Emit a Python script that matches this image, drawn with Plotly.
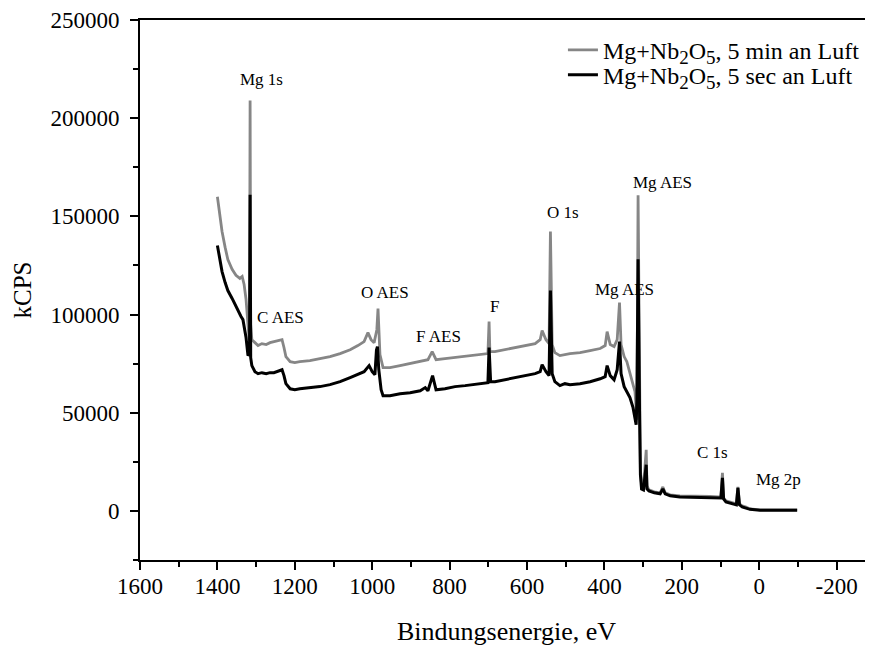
import plotly.graph_objects as go

# Binding energy (eV) and intensity for the two spectra
energy_gray = [1400, 1395, 1388, 1380, 1373, 1362, 1352, 1342, 1336, 1331, 1326, 1321, 1318,
               1317, 1315.5, 1314, 1311, 1303, 1295, 1285, 1274, 1264, 1254, 1243, 1233, 1228,
               1223, 1212, 1200, 1187, 1161, 1135, 1109, 1083, 1057, 1037, 1021, 1011, 1003, 995,
               988, 985, 980, 972, 954, 928, 902, 876, 856, 845, 835, 812, 786, 760, 734, 708,
               701, 698, 696, 683, 657, 631, 605, 579, 566, 561, 551, 543, 539.5, 535, 528, 515,
               489, 463, 437, 411, 398, 393, 385, 375, 367, 361, 357, 349, 342, 334, 326, 321,
               318, 316, 313, 309, 307, 304, 299, 292, 290, 285, 271, 256, 249, 243, 230, 205,
               179, 153, 127, 106, 99, 95, 92, 86, 76, 62, 59, 55, 51, 44, 34, 24, -2, -54, -98]
counts_gray = [160000, 152000, 142300, 134200, 128000, 123000, 120000, 118400, 119400, 115300,
               107700, 95000, 87200, 90000, 209000, 95000, 87200, 85700, 84200, 85200, 84700,
               85700, 86200, 86700, 87200, 83200, 78600, 76000, 75500, 76000, 76500, 77500,
               78600, 80100, 82100, 84200, 86200, 90800, 87200, 85700, 92300, 103000, 79600,
               73000, 73000, 74000, 75000, 76000, 77000, 81100, 77000, 77500, 78100, 78600,
               79100, 79600, 80100, 96400, 81100, 81100, 82100, 83200, 84200, 85200, 87200,
               91800, 87200, 85200, 142300, 84700, 80600, 79100, 80100, 80600, 81600, 82700,
               84200, 91300, 84700, 83700, 87200, 106100, 84700, 78600, 76000, 69400, 64300,
               60700, 54000, 46400, 160700, 46400, 20900, 13300, 12200, 31100, 12700, 10700,
               9700, 9200, 12200, 9200, 8200, 7700, 7700, 7700, 7400, 7100, 7100, 19400, 6600,
               5100, 4600, 4100, 3600, 12200, 3600, 2600, 2000, 1000, 500, 500, 500]

energy_black = [1400, 1395, 1388, 1380, 1373, 1362, 1352, 1344, 1339, 1334, 1326, 1321,
                1317, 1315.5, 1314, 1311, 1303, 1295, 1285, 1274, 1264, 1254, 1243, 1233, 1228,
                1223, 1212, 1200, 1187, 1161, 1135, 1109, 1083, 1057, 1037, 1021, 1008, 1000,
                993, 989, 986.5, 983, 977, 972, 954, 928, 902, 876, 863, 856, 844, 835, 812,
                786, 760, 734, 708, 701, 698, 694, 683, 657, 631, 605, 579, 566, 561, 551, 543,
                539.5, 535, 528, 515, 502, 489, 463, 437, 411, 398, 393, 385, 375, 367, 361,
                357, 349, 342, 334, 326, 321, 318, 316, 313, 309, 307, 304, 299, 292, 290, 285,
                271, 256, 249, 243, 230, 205, 153, 106, 99, 95, 92, 86, 76, 62, 59, 55, 51, 44,
                34, 24, -2, -98]
counts_black = [135200, 129100, 121900, 116300, 112200, 108200, 104100, 100500, 99000, 97400,
                88300, 79100, 80000, 161000, 78000, 74000, 70900, 69900, 70400, 69900, 70400,
                70400, 71400, 71900, 68900, 64800, 62200, 61700, 62200, 62800, 63300, 64300,
                65800, 67900, 69400, 70900, 74000, 70900, 69400, 82000, 83700, 71900, 61700,
                58700, 58700, 59700, 60200, 61200, 62800, 61200, 68900, 61700, 62200, 63300,
                63800, 64300, 64800, 65300, 83200, 65800, 65800, 66800, 67900, 68900, 69900,
                70900, 74500, 70900, 68900, 112200, 69900, 65800, 63800, 64800, 64300, 64800,
                65800, 67300, 68400, 74000, 68900, 66800, 71900, 86200, 69900, 63300, 60700,
                57700, 52600, 45400, 43900, 56600, 128100, 46400, 18400, 11200, 10700, 23500,
                11200, 10200, 9200, 8700, 11200, 8700, 7700, 7100, 6900, 6600, 6600, 16800,
                6100, 4600, 4100, 3600, 3100, 11700, 3100, 2000, 1500, 800, 300, 300]

SUB = "<sub><span style='font-size:19px'>{}</span></sub>"
series_names = ["Mg+Nb" + SUB.format("2") + "O" + SUB.format("5") + ", 5 min an Luft",
                "Mg+Nb" + SUB.format("2") + "O" + SUB.format("5") + ", 5 sec an Luft"]

peak_labels = ["Mg 1s", "C AES", "O AES", "F AES", "F", "O 1s", "Mg AES", "Mg AES", "C 1s", "Mg 2p"]
label_energy = [1287, 1238, 967, 830, 685, 507, 347, 249, 122, -49]
label_counts = [219900, 98500, 111200, 88800, 104100, 152000, 112800, 167300, 29600, 15800]

x_ticks = [1600, 1400, 1200, 1000, 800, 600, 400, 200, 0, -200]
y_ticks = [0, 50000, 100000, 150000, 200000, 250000]

FONT = "Liberation Serif, Times New Roman, serif"

fig = go.Figure()
fig.add_trace(go.Scatter(x=energy_gray, y=counts_gray, mode="lines", name=series_names[0],
                         line=dict(color="#868686", width=2.8), legend="legend"))
fig.add_trace(go.Scatter(x=energy_black, y=counts_black, mode="lines", name=series_names[1],
                         line=dict(color="#000000", width=3), legend="legend2"))

for t, ex, cy in zip(peak_labels, label_energy, label_counts):
    fig.add_annotation(x=ex, y=cy, text=t, showarrow=False, xref="x", yref="y",
                       font=dict(family=FONT, size=17, color="#000000"))

legend_common = dict(xanchor="left", yanchor="middle", bgcolor="rgba(0,0,0,0)",
                     font=dict(family=FONT, size=24, color="#000000"), itemwidth=30)

fig.update_layout(
    width=865, height=643,
    margin=dict(l=132, r=0, t=12, b=91),
    paper_bgcolor="white", plot_bgcolor="white",
    font=dict(family=FONT, size=22, color="#000000"),
    showlegend=True,
    legend=dict(x=0.577, y=0.944, **legend_common),
    legend2=dict(x=0.577, y=0.898, **legend_common),
    xaxis=dict(range=[1600, -294], tickvals=x_ticks, ticktext=[str(v) for v in x_ticks],
               showgrid=False, zeroline=False, showline=True, linecolor="black", linewidth=2,
               mirror=True, ticks="outside", ticklen=8, tickwidth=2, tickcolor="black",
               ticklabelstandoff=-4,
               minor=dict(dtick=100, tick0=0, ticks="outside", ticklen=5, tickwidth=2,
                          tickcolor="black", showgrid=False),
               title=dict(text="Bindungsenergie, eV", font=dict(family=FONT, size=26), standoff=24),
               tickfont=dict(family=FONT, size=23)),
    yaxis=dict(range=[-25000, 250000], tickvals=y_ticks, ticktext=[str(v) for v in y_ticks],
               showgrid=False, zeroline=False, showline=True, linecolor="black", linewidth=2,
               ticks="outside", ticklen=8, tickwidth=2, tickcolor="black",
               ticklabelstandoff=6,
               minor=dict(dtick=25000, tick0=0, ticks="outside", ticklen=5, tickwidth=2,
                          tickcolor="black", showgrid=False),
               title=dict(text="kCPS", font=dict(family=FONT, size=25), standoff=12),
               tickfont=dict(family=FONT, size=23)),
)

fig.write_html("out.html")
